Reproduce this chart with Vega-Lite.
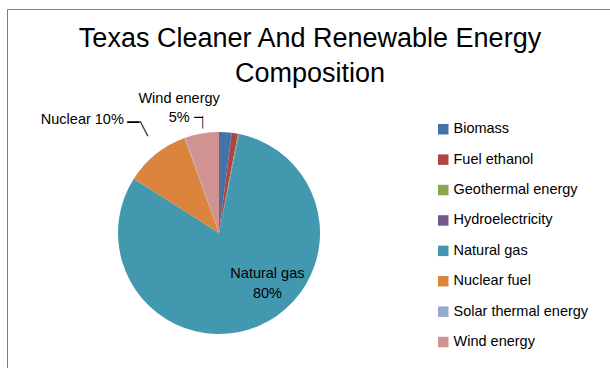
{
  "$schema": "https://vega.github.io/schema/vega-lite/v6.json",
  "width": 606,
  "height": 370,
  "autosize": {"type": "none"},
  "padding": {"left": 7, "top": 9, "right": 0, "bottom": 0},
  "background": "white",
  "view": {"stroke": "#7f7f7f", "strokeWidth": 1, "fill": "white"},
  "config": {
    "view": {"stroke": "#7f7f7f", "strokeWidth": 1},
    "font": "Liberation Sans"
  },
  "title": {
    "text": ["Texas Cleaner And Renewable Energy", "Composition"],
    "anchor": "middle",
    "frame": "group",
    "baseline": "top",
    "offset": 0,
    "dy": 79,
    "lineHeight": 35,
    "fontSize": 27,
    "font": "Liberation Sans",
    "fontWeight": "normal",
    "color": "#000000"
  },
  "data": {
    "values": [
      {"source": "Biomass", "label": "Biomass", "share": 2.0},
      {"source": "Fuel ethanol", "label": "Fuel ethanol", "share": 1.0},
      {"source": "Geothermal energy", "label": "Geothermal energy", "share": 0.1},
      {"source": "Hydroelectricity", "label": "Hydroelectricity", "share": 0.1},
      {"source": "Natural gas", "label": "Natural gas", "share": 80.4},
      {"source": "Nuclear fuel", "label": "Nuclear", "share": 10.4},
      {"source": "Solar thermal energy", "label": "Solar thermal energy", "share": 0.1},
      {"source": "Wind energy", "label": "Wind energy", "share": 5.4}
    ]
  },
  "encoding": {
    "theta": {"field": "share", "type": "quantitative", "stack": true}
  },
  "layer": [
    {
      "mark": {"type": "arc", "x": 212, "y": 224, "outerRadius": 101},
      "encoding": {
        "color": {
          "field": "source",
          "type": "nominal",
          "scale": {
            "domain": ["Biomass", "Fuel ethanol", "Geothermal energy", "Hydroelectricity", "Natural gas", "Nuclear fuel", "Solar thermal energy", "Wind energy"],
            "range": ["#4572A7", "#AA4643", "#89A54E", "#71588F", "#4198AF", "#DB843D", "#93A9CF", "#D19392"]
          },
          "legend": {
            "orient": "none",
            "legendX": 429,
            "legendY": 113,
            "title": null,
            "padding": 0,
            "symbolType": "square",
            "symbolSize": 110,
            "symbolStrokeWidth": 0,
            "labelFontSize": 14.5,
            "labelFont": "Liberation Sans",
            "labelColor": "#000000",
            "labelOffset": 3,
            "rowPadding": 15.4
          }
        }
      }
    },
    {
      "mark": {
        "type": "text", "x": 212, "y": 224, "radius": 60, "dx": 25, "dy": -14,
        "fontSize": 14.5, "color": "#000000", "lineBreak": "\n", "lineHeight": 20,
        "text": {"expr": "datum.source === 'Natural gas' ? datum.label + '\\n' + format(datum.share, '.0f') + '%' : ''"}
      },
      "encoding": {"detail": {"field": "source", "type": "nominal"}}
    },
    {
      "mark": {
        "type": "text", "x": 212, "y": 224, "radius": 145, "dx": -46, "dy": 0,
        "fontSize": 14.5, "color": "#000000",
        "text": {"expr": "datum.source === 'Nuclear fuel' ? datum.label + ' ' + format(datum.share, '.0f') + '%' : ''"}
      },
      "encoding": {"detail": {"field": "source", "type": "nominal"}}
    },
    {
      "mark": {
        "type": "text", "x": 212, "y": 224, "radius": 129, "dx": -18, "dy": -7,
        "fontSize": 14.5, "color": "#000000", "lineBreak": "\n", "lineHeight": 19,
        "text": {"expr": "datum.source === 'Wind energy' ? datum.label + '\\n' + format(datum.share, '.0f') + '%' : ''"}
      },
      "encoding": {"detail": {"field": "source", "type": "nominal"}}
    },
    {
      "mark": {
        "type": "text", "x": 212, "y": 224, "radius": 145, "dx": 5, "dy": 3,
        "font": "DejaVu Sans Mono", "fontSize": 20, "color": "#000000", "baseline": "middle",
        "text": {"expr": "datum.source === 'Nuclear fuel' ? '─' : ''"}
      },
      "encoding": {"detail": {"field": "source", "type": "nominal"}}
    },
    {
      "mark": {
        "type": "text", "x": 212, "y": 224, "radius": 145, "dx": 11.6, "dy": 3,
        "font": "DejaVu Sans Mono", "fontSize": 13, "color": "#000000", "align": "left", "baseline": "top",
        "text": {"expr": "datum.source === 'Nuclear fuel' ? '╲' : ''"}
      },
      "encoding": {"detail": {"field": "source", "type": "nominal"}}
    },
    {
      "mark": {
        "type": "text", "x": 212, "y": 224, "radius": 129, "dx": 1.4, "dy": 12,
        "font": "DejaVu Sans Mono", "fontSize": 14, "color": "#000000", "baseline": "middle",
        "text": {"expr": "datum.source === 'Wind energy' ? '─' : ''"}
      },
      "encoding": {"detail": {"field": "source", "type": "nominal"}}
    },
    {
      "mark": {
        "type": "text", "x": 212, "y": 224, "radius": 129, "dx": 5.4, "dy": 12,
        "font": "DejaVu Sans Mono", "fontSize": 10.5, "color": "#000000", "baseline": "top",
        "text": {"expr": "datum.source === 'Wind energy' ? '│' : ''"}
      },
      "encoding": {"detail": {"field": "source", "type": "nominal"}}
    }
  ]
}
